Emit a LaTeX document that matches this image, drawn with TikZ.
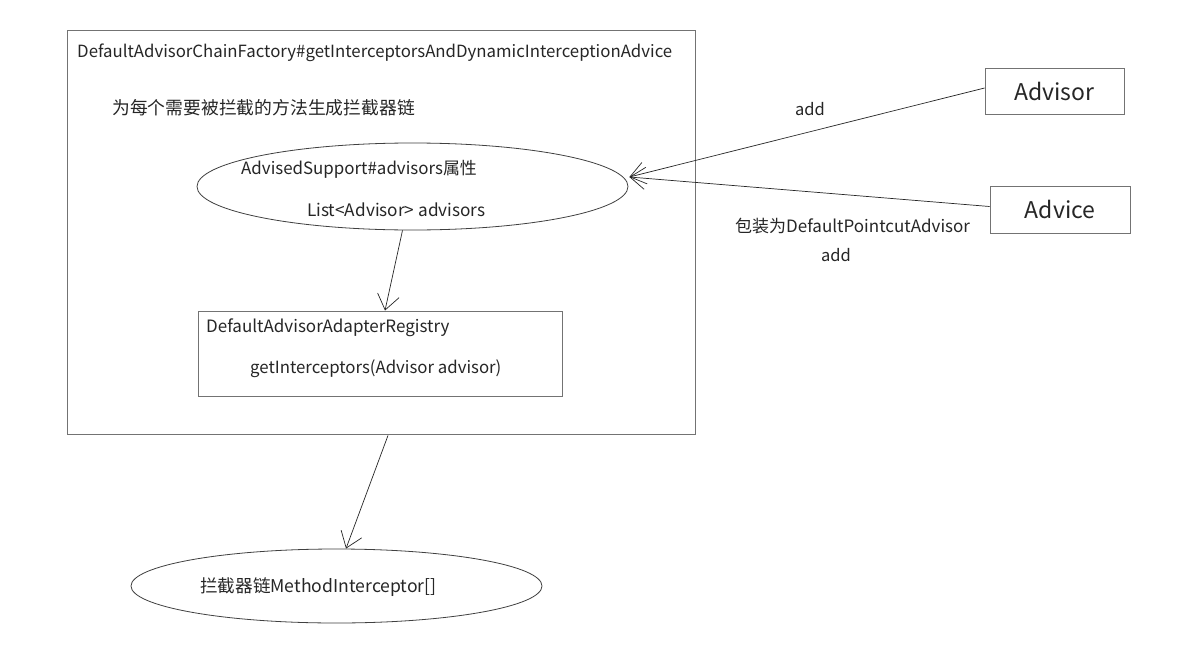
\documentclass[tikz,border=0pt]{standalone}
\usepackage{fontspec}
\setmainfont{Noto Sans CJK SC}
\usetikzlibrary{arrows.meta,shapes.geometric,calc}
\begin{document}
\begin{tikzpicture}[x=1pt,y=-1pt,
  box/.style={draw=black!55,line width=0.9pt,rectangle,inner sep=0pt},
  ell/.style={draw=black!75,line width=0.8pt,ellipse,inner sep=0pt},
  txt/.style={anchor=west,inner sep=0pt,text=black!85},
  conn/.style={draw=black!85,line width=0.7pt,-{Straight Barb[length=15pt,width=22pt,line width=0.7pt]}}
]
\useasboundingbox (0,0) rectangle (1192,645);
\fill[white] (0,0) rectangle (1192,645);
% outer frame
\node[box,minimum width=628pt,minimum height=404pt] (big) at (381,232) {};
\node[txt,font=\fontsize{16.8}{18}\selectfont] (title) at (77,53) {DefaultAdvisorChainFactory\#getInterceptorsAndDynamicInterceptionAdvice};
\node[txt,font=\fontsize{17.8}{19}\selectfont] (cn) at (112,108) {为每个需要被拦截的方法生成拦截器链};
% ellipse 1
\node[ell,minimum width=431pt,minimum height=87pt] (e1) at (412.5,186.5) {};
\node[txt,font=\fontsize{16.9}{18}\selectfont] (e1a) at (241,169) {AdvisedSupport\#advisors属性};
\node[txt,font=\fontsize{17.2}{18}\selectfont] (e1b) at (307,210) {List<Advisor> advisors};
% registry
\node[box,minimum width=364pt,minimum height=85pt] (reg) at (380,353.5) {};
\node[txt,font=\fontsize{17}{18}\selectfont] (rega) at (206,328) {DefaultAdvisorAdapterRegistry};
\node[txt,font=\fontsize{16.8}{18}\selectfont] (regb) at (250,369) {getInterceptors(Advisor advisor)};
% right boxes
\node[box,minimum width=139pt,minimum height=46pt,font=\fontsize{23}{25}\selectfont,text=black!85] (advisor) at (1054.5,91) {Advisor};
\node[box,minimum width=140pt,minimum height=47pt,font=\fontsize{23}{25}\selectfont,text=black!85] (advice) at (1060,209.5) {Advice};
% labels
\node[txt,font=\fontsize{16.5}{18}\selectfont] (l1) at (795,109) {add};
\node[txt,font=\fontsize{17}{18}\selectfont] (l2) at (735,226) {包装为DefaultPointcutAdvisor};
\node[txt,font=\fontsize{16.5}{18}\selectfont] (l3) at (821,255) {add};
% bottom ellipse
\node[ell,minimum width=411pt,minimum height=74pt] (e2) at (336.5,586) {};
\node[txt,font=\fontsize{17.6}{19}\selectfont] (e2t) at (200,587) {拦截器链MethodInterceptor[]};
% connectors
\coordinate (tip) at ($(e1.east)+(1,-9.5)$);
\draw[conn] ($(advisor.west)+(0,-3)$) -- (tip);
\draw[conn] ($(advice.west)+(0,-3)$) -- (tip);
\draw[conn] ($(e1.south)+(-10,0)$) -- ($(reg.north)+(5,0)$);
\draw[conn] ($(big.south)+(7,1)$) -- ($(e2.north)+(9.5,0)$);
\end{tikzpicture}
\end{document}
